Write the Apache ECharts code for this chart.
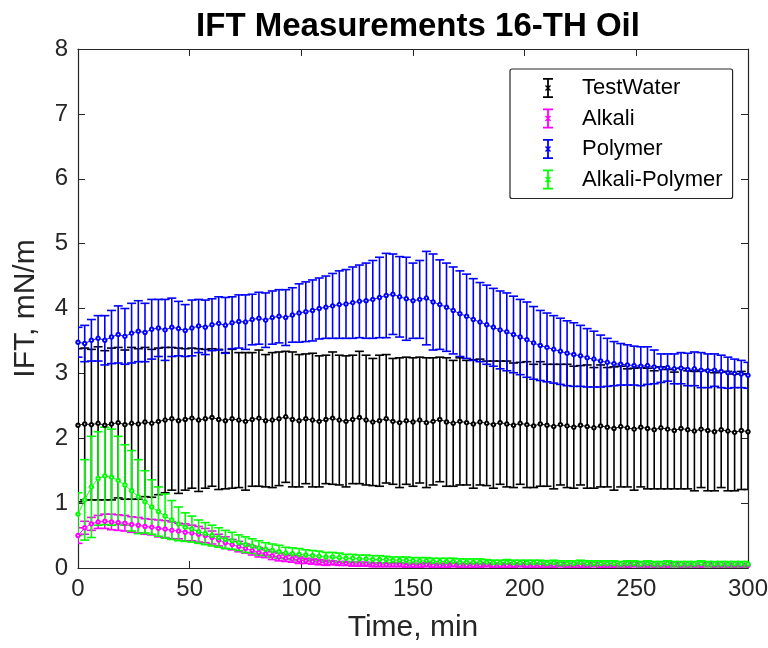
<!DOCTYPE html>
<html>
<head>
<meta charset="utf-8">
<title>IFT Measurements 16-TH Oil</title>
<script src="https://cdn.jsdelivr.net/npm/echarts@6/dist/echarts.min.js"></script>
<style>
  html, body { margin: 0; padding: 0; background: #fff; }
  #chart { width: 768px; height: 648px; }
</style>
</head>
<body>
<div id="chart"></div>
<script>
// Sampling times (min)
const time = [
  0, 3, 6, 9, 12, 15, 18, 21, 24, 27,
  30, 33, 36, 39, 42, 45, 48, 51, 54, 57,
  60, 63, 66, 69, 72, 75, 78, 81, 84, 87,
  90, 93, 96, 99, 102, 105, 108, 111, 114, 117,
  120, 123, 126, 129, 132, 135, 138, 141, 144, 147,
  150, 153, 156, 159, 162, 165, 168, 171, 174, 177,
  180, 183, 186, 189, 192, 195, 198, 201, 204, 207,
  210, 213, 216, 219, 222, 225, 228, 231, 234, 237,
  240, 243, 246, 249, 252, 255, 258, 261, 264, 267,
  270, 273, 276, 279, 282, 285, 288, 291, 294, 297,
  300
];

// TestWater: mean IFT and error (mN/m)
const testWaterMean = [
  2.20, 2.22, 2.21, 2.23, 2.20, 2.22, 2.24, 2.21, 2.23, 2.22,
  2.25, 2.23, 2.26, 2.28, 2.30, 2.27, 2.29, 2.31, 2.28, 2.30,
  2.32, 2.29, 2.27, 2.30, 2.28, 2.26, 2.29, 2.31, 2.27, 2.28,
  2.30, 2.33, 2.29, 2.27, 2.30, 2.28, 2.26, 2.29, 2.31, 2.28,
  2.26, 2.29, 2.32, 2.28, 2.25, 2.27, 2.30, 2.26, 2.24, 2.27,
  2.25, 2.28, 2.24, 2.26, 2.29, 2.25, 2.23, 2.26, 2.24, 2.22,
  2.25, 2.23, 2.21, 2.24, 2.22, 2.20, 2.23, 2.21, 2.19, 2.22,
  2.20, 2.18, 2.21, 2.19, 2.17, 2.20, 2.18, 2.16, 2.19, 2.17,
  2.15, 2.18, 2.16, 2.14, 2.17, 2.15, 2.13, 2.16, 2.14, 2.12,
  2.15, 2.13, 2.11, 2.14, 2.12, 2.10, 2.13, 2.11, 2.09, 2.12,
  2.10
];
const testWaterErr = [
  1.18, 1.17, 1.16, 1.18, 1.15, 1.17, 1.16, 1.15, 1.17, 1.16,
  1.15, 1.14, 1.13, 1.12, 1.10, 1.12, 1.09, 1.08, 1.10, 1.07,
  1.06, 1.08, 1.05, 1.07, 1.04, 1.06, 1.03, 1.05, 1.02, 1.04,
  1.03, 1.01, 1.04, 1.02, 1.00, 1.03, 1.01, 0.99, 1.02, 1.00,
  1.01, 0.99, 1.02, 1.00, 0.98, 1.01, 0.99, 0.97, 1.00, 0.98,
  0.99, 0.97, 1.00, 0.98, 0.96, 0.99, 0.97, 0.98, 0.96, 0.99,
  0.97, 0.96, 0.98, 0.95, 0.97, 0.96, 0.94, 0.97, 0.95, 0.96,
  0.94, 0.96, 0.93, 0.95, 0.94, 0.92, 0.95, 0.93, 0.94, 0.92,
  0.95, 0.93, 0.91, 0.94, 0.92, 0.93, 0.91, 0.94, 0.92, 0.90,
  0.93, 0.91, 0.92, 0.90, 0.93, 0.91, 0.89, 0.92, 0.90, 0.91,
  0.89
];

// Alkali
const alkaliMean = [
  0.50, 0.62, 0.68, 0.71, 0.72, 0.71, 0.70, 0.69, 0.67, 0.66,
  0.64, 0.63, 0.61, 0.60, 0.58, 0.57, 0.55, 0.54, 0.52, 0.50,
  0.47, 0.43, 0.39, 0.36, 0.33, 0.30, 0.27, 0.24, 0.22, 0.19,
  0.17, 0.15, 0.14, 0.12, 0.11, 0.10, 0.09, 0.08, 0.08, 0.07,
  0.07, 0.06, 0.06, 0.06, 0.05, 0.05, 0.05, 0.05, 0.05, 0.04,
  0.04, 0.04, 0.05, 0.04, 0.04, 0.04, 0.05, 0.04, 0.04, 0.04,
  0.04, 0.05, 0.04, 0.04, 0.04, 0.04, 0.05, 0.04, 0.04, 0.04,
  0.04, 0.04, 0.05, 0.04, 0.04, 0.04, 0.04, 0.05, 0.04, 0.04,
  0.04, 0.04, 0.04, 0.05, 0.04, 0.04, 0.04, 0.04, 0.04, 0.05,
  0.04, 0.04, 0.04, 0.04, 0.05, 0.04, 0.04, 0.04, 0.04, 0.04,
  0.04
];
const alkaliErr = [
  0.12, 0.10, 0.10, 0.10, 0.11, 0.12, 0.12, 0.12, 0.12, 0.12,
  0.12, 0.12, 0.13, 0.13, 0.13, 0.12, 0.13, 0.12, 0.12, 0.11,
  0.10, 0.09, 0.09, 0.08, 0.08, 0.07, 0.07, 0.07, 0.06, 0.06,
  0.06, 0.05, 0.05, 0.05, 0.04, 0.04, 0.04, 0.04, 0.03, 0.03,
  0.03, 0.03, 0.03, 0.03, 0.03, 0.03, 0.03, 0.03, 0.03, 0.03,
  0.03, 0.03, 0.03, 0.03, 0.03, 0.03, 0.03, 0.03, 0.03, 0.03,
  0.03, 0.03, 0.03, 0.03, 0.03, 0.03, 0.03, 0.03, 0.03, 0.03,
  0.03, 0.03, 0.03, 0.03, 0.03, 0.03, 0.03, 0.03, 0.03, 0.03,
  0.03, 0.03, 0.03, 0.03, 0.03, 0.03, 0.03, 0.03, 0.03, 0.03,
  0.03, 0.03, 0.03, 0.03, 0.03, 0.03, 0.03, 0.03, 0.03, 0.03,
  0.03
];

// Polymer
const polymerMean = [
  3.48, 3.46, 3.51, 3.54, 3.51, 3.56, 3.60, 3.57, 3.62, 3.65,
  3.63, 3.68, 3.70, 3.67, 3.71, 3.69, 3.66, 3.70, 3.73, 3.71,
  3.75, 3.77, 3.74, 3.78, 3.80, 3.79, 3.83, 3.85, 3.82, 3.86,
  3.88, 3.86, 3.90, 3.93, 3.95, 3.97, 4.00, 4.02, 4.04, 4.06,
  4.07, 4.09, 4.11, 4.12, 4.14, 4.17, 4.20, 4.22, 4.18, 4.15,
  4.12, 4.14, 4.16, 4.10, 4.06, 4.02, 3.97, 3.92, 3.88, 3.83,
  3.79, 3.75, 3.71, 3.67, 3.64, 3.60, 3.56, 3.52, 3.47, 3.43,
  3.40, 3.37, 3.34, 3.31, 3.29, 3.27, 3.24, 3.22, 3.19, 3.17,
  3.15, 3.14, 3.13, 3.12, 3.11, 3.12, 3.10, 3.08, 3.09, 3.07,
  3.08, 3.06, 3.07, 3.05, 3.04, 3.05, 3.03, 3.01, 3.00, 2.99,
  2.97
];
const polymerErr = [
  0.23, 0.28, 0.32, 0.35, 0.38, 0.41, 0.44, 0.43, 0.46, 0.47,
  0.45, 0.46, 0.44, 0.47, 0.45, 0.42, 0.40, 0.43, 0.41, 0.42,
  0.40, 0.41, 0.43, 0.40, 0.41, 0.42, 0.39, 0.40, 0.42, 0.41,
  0.41, 0.43, 0.42, 0.45, 0.46, 0.47, 0.47, 0.48, 0.50, 0.52,
  0.53, 0.55, 0.56, 0.58, 0.60, 0.62, 0.65, 0.62, 0.62, 0.64,
  0.58, 0.60, 0.72, 0.74, 0.69, 0.68, 0.67, 0.66, 0.65, 0.63,
  0.61, 0.61, 0.60, 0.60, 0.60, 0.59, 0.58, 0.58, 0.56, 0.54,
  0.53, 0.52, 0.51, 0.50, 0.49, 0.47, 0.45, 0.43, 0.40, 0.37,
  0.34, 0.32, 0.31, 0.30, 0.30, 0.29, 0.26, 0.22, 0.21, 0.23,
  0.24, 0.25, 0.26, 0.27, 0.26, 0.25, 0.25, 0.24, 0.22, 0.21,
  0.20
];

// Alkali-Polymer
const alkaliPolymerMean = [
  0.83, 1.05, 1.25, 1.38, 1.42, 1.40, 1.35, 1.28, 1.19, 1.10,
  1.02, 0.94, 0.87, 0.80, 0.74, 0.68, 0.63, 0.60, 0.56, 0.53,
  0.50, 0.47, 0.44, 0.42, 0.39, 0.36, 0.34, 0.31, 0.29, 0.27,
  0.25, 0.23, 0.22, 0.21, 0.20, 0.19, 0.18, 0.17, 0.17, 0.16,
  0.15, 0.15, 0.14, 0.14, 0.13, 0.13, 0.13, 0.12, 0.12, 0.12,
  0.11, 0.11, 0.11, 0.10, 0.10, 0.10, 0.10, 0.09, 0.09, 0.09,
  0.09, 0.09, 0.08, 0.08, 0.09, 0.08, 0.08, 0.08, 0.08, 0.08,
  0.07, 0.08, 0.07, 0.07, 0.07, 0.08, 0.07, 0.07, 0.07, 0.07,
  0.07, 0.06, 0.07, 0.07, 0.06, 0.07, 0.06, 0.06, 0.07, 0.06,
  0.06, 0.06, 0.06, 0.07, 0.06, 0.06, 0.06, 0.06, 0.06, 0.06,
  0.06
];
const alkaliPolymerErr = [
  0.33, 0.62, 0.78, 0.72, 0.75, 0.74, 0.68, 0.62, 0.62, 0.57,
  0.48, 0.42, 0.38, 0.34, 0.30, 0.26, 0.22, 0.20, 0.18, 0.17,
  0.16, 0.15, 0.14, 0.13, 0.12, 0.12, 0.11, 0.11, 0.10, 0.10,
  0.10, 0.09, 0.09, 0.09, 0.08, 0.08, 0.08, 0.07, 0.07, 0.07,
  0.06, 0.06, 0.06, 0.06, 0.06, 0.06, 0.05, 0.05, 0.05, 0.05,
  0.05, 0.05, 0.05, 0.05, 0.05, 0.05, 0.05, 0.05, 0.05, 0.05,
  0.05, 0.04, 0.04, 0.04, 0.04, 0.04, 0.04, 0.04, 0.04, 0.04,
  0.04, 0.04, 0.04, 0.04, 0.04, 0.04, 0.04, 0.04, 0.04, 0.04,
  0.04, 0.04, 0.04, 0.04, 0.04, 0.04, 0.04, 0.04, 0.04, 0.04,
  0.04, 0.04, 0.04, 0.04, 0.04, 0.04, 0.04, 0.04, 0.04, 0.04,
  0.04
];

const xTicks = [0, 50, 100, 150, 200, 250, 300];
const yTicks = [0, 1, 2, 3, 4, 5, 6, 7, 8];

const seriesDefs = [
  { name: 'TestWater', color: '#000000', mean: testWaterMean, err: testWaterErr },
  { name: 'Alkali', color: '#ff00ff', mean: alkaliMean, err: alkaliErr },
  { name: 'Polymer', color: '#0000ff', mean: polymerMean, err: polymerErr },
  { name: 'Alkali-Polymer', color: '#00ff00', mean: alkaliPolymerMean, err: alkaliPolymerErr }
];

const FONT = "'Liberation Sans', Arial, Helvetica, sans-serif";
const AXIS_COLOR = '#262626';

// Error-bar legend glyph: capped vertical bar with a small cross
const errorBarIcon = 'path://M0,0H10V1.8H0Z M4.1,0H5.9V20H4.1Z M0,18.2H10V20H0Z ' +
  'M2,8L3,7L5,9L7,7L8,8L6,10L8,12L7,13L5,11L3,13L2,12L4,10Z';

function renderErrorBar(params, api) {
  const x = api.value(0);
  const lo = api.value(1);
  const hi = api.value(2);
  const top = api.coord([x, hi]);
  const bot = api.coord([x, lo]);
  const hw = 4.5;
  const style = { stroke: api.visual('color'), lineWidth: 1.6, fill: null };
  return {
    type: 'group',
    children: [
      { type: 'line', shape: { x1: top[0], y1: top[1], x2: bot[0], y2: bot[1] }, style: style },
      { type: 'line', shape: { x1: top[0] - hw, y1: top[1], x2: top[0] + hw, y2: top[1] }, style: style },
      { type: 'line', shape: { x1: bot[0] - hw, y1: bot[1], x2: bot[0] + hw, y2: bot[1] }, style: style }
    ]
  };
}

const series = [];
seriesDefs.forEach(function (d) {
  series.push({
    name: d.name,
    type: 'custom',
    renderItem: renderErrorBar,
    itemStyle: { color: d.color },
    encode: { x: 0, y: [1, 2] },
    data: time.map(function (t, i) { return [t, d.mean[i] - d.err[i], d.mean[i] + d.err[i]]; }),
    silent: true,
    clip: true
  });
  series.push({
    name: d.name,
    type: 'line',
    data: time.map(function (t, i) { return [t, d.mean[i]]; }),
    symbol: 'emptyCircle',
    symbolSize: 3.5,
    showSymbol: true,
    lineStyle: { color: d.color, width: 0.9 },
    itemStyle: { color: d.color, borderColor: d.color, borderWidth: 0.8 },
    silent: true
  });
});

const chart = echarts.init(document.getElementById('chart'), null, { renderer: 'canvas' });

const commonAxis = {
  axisLine: { show: true, onZero: false, lineStyle: { color: AXIS_COLOR, width: 1.2 } },
  axisTick: { show: true, inside: true, length: 7, lineStyle: { color: AXIS_COLOR, width: 1 } },
  splitLine: { show: false }
};

chart.setOption({
  animation: false,
  backgroundColor: '#ffffff',
  title: {
    text: 'IFT Measurements 16-TH Oil',
    left: 413,
    textAlign: 'center',
    top: 5,
    textStyle: { fontFamily: FONT, fontSize: 33, fontWeight: 'bold', color: '#000' }
  },
  legend: {
    orient: 'vertical',
    left: 510,
    top: 69,
    padding: [8, 10, 8, 33],
    itemWidth: 10,
    itemHeight: 22,
    itemGap: 8.5,
    backgroundColor: '#ffffff',
    borderColor: AXIS_COLOR,
    borderWidth: 1.2,
    borderRadius: 2,
    textStyle: { fontFamily: FONT, fontSize: 22, color: '#000', padding: [0, 0, 0, 24] },
    data: seriesDefs.map(function (d) { return { name: d.name, icon: errorBarIcon }; }),
    selectedMode: false
  },
  grid: {
    left: 78,
    right: 20,
    top: 49,
    bottom: 80,
    containLabel: false,
    outerBoundsMode: 'none'
  },
  xAxis: [
    Object.assign({}, commonAxis, {
      type: 'value',
      min: xTicks[0],
      max: xTicks[xTicks.length - 1],
      interval: xTicks[1] - xTicks[0],
      position: 'bottom',
      name: 'Time, min',
      nameLocation: 'middle',
      nameGap: 45,
      nameTextStyle: { fontFamily: FONT, fontSize: 30, color: AXIS_COLOR },
      axisLabel: { fontFamily: FONT, fontSize: 24, color: AXIS_COLOR, margin: 9 }
    }),
    Object.assign({}, commonAxis, {
      type: 'value',
      min: xTicks[0],
      max: xTicks[xTicks.length - 1],
      interval: xTicks[1] - xTicks[0],
      position: 'top',
      axisLabel: { show: false }
    })
  ],
  yAxis: [
    Object.assign({}, commonAxis, {
      type: 'value',
      min: yTicks[0],
      max: yTicks[yTicks.length - 1],
      interval: yTicks[1] - yTicks[0],
      position: 'left',
      name: 'IFT, mN/m',
      nameLocation: 'middle',
      nameGap: 37,
      nameTextStyle: { fontFamily: FONT, fontSize: 30, color: AXIS_COLOR },
      axisLabel: { fontFamily: FONT, fontSize: 24, color: AXIS_COLOR, margin: 10 }
    }),
    Object.assign({}, commonAxis, {
      type: 'value',
      min: yTicks[0],
      max: yTicks[yTicks.length - 1],
      interval: yTicks[1] - yTicks[0],
      position: 'right',
      axisLabel: { show: false }
    })
  ],
  series: series
});
</script>
</body>
</html>
